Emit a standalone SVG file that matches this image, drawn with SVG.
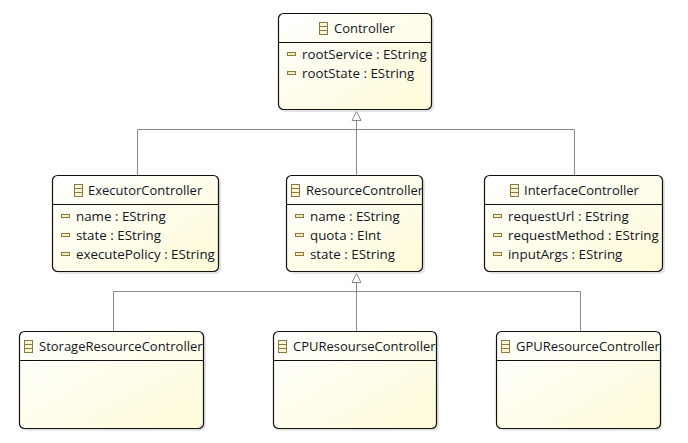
<svg xmlns="http://www.w3.org/2000/svg" width="688" height="443" viewBox="0 0 688 443">
<style>
text{font-family:"Open Sans","Noto Sans","Liberation Sans",sans-serif;font-size:13px;fill:#10161e}
text.a{font-size:13.35px}
.box{fill:url(#g);stroke:#111;stroke-width:1.2}
.sep{stroke:#111;stroke-width:1}
.shadow{fill:#bbb;opacity:.4}
.conn{fill:none;stroke:#8a8a8a;stroke-width:1}
.head{fill:#fff;stroke:#8a8a8a;stroke-width:1}
.ci{fill:#faf5d8;stroke:#8a7a3c;stroke-width:1}
.at{fill:#f5edc0;stroke:#8a7a3c;stroke-width:1}
</style>
<defs>
<linearGradient id="g" x1="0" y1="0" x2="1" y2="1"><stop offset="0" stop-color="#ffffff"/><stop offset="1" stop-color="#fffbd8"/></linearGradient>
<g id="ci"><rect class="ci" x="0.5" y="0.500" width="8" height="12"/><path class="ci" d="M0.5 4.500H8.500M0.5 8.500H8.500"/></g>
<rect id="at" class="at" x="0.5" y="0.5" width="8" height="3"/>
</defs>
<rect width="688" height="443" fill="#fff"/>
<g id="connectors">
<path class="conn" d="M137.500 176V129.500H574.500V176M356.500 176V120"/>
<path class="head" d="M356.500 111.500L352 120.500H361Z"/>
<path class="conn" d="M113.500 332V291.500H580.500V332M356.500 332V282"/>
<path class="head" d="M356.500 273.500L352 282.500H361Z"/>
</g>
<g id="Controller">
<rect class="shadow" x="280" y="16" width="154" height="96" rx="5"/>
<rect class="box" x="278.500" y="13.500" width="153" height="96" rx="5"/>
<path class="sep" d="M278.500 42.500H431.500"/>
<use href="#ci" x="319" y="22"/>
<text x="334" y="33">Controller</text>
<use href="#at" x="287" y="52"/><text class="a" x="302" y="59">rootService : EString</text>
<use href="#at" x="287" y="71"/><text class="a" x="302" y="78">rootState : EString</text>
</g>
<g id="ExecutorController">
<rect class="shadow" x="55" y="178" width="166" height="96" rx="5"/>
<rect class="box" x="52.500" y="175.500" width="166" height="96" rx="5"/>
<path class="sep" d="M52.500 204.500H218.500"/>
<use href="#ci" x="74" y="184"/>
<text x="88" y="195">ExecutorController</text>
<use href="#at" x="61" y="214"/><text class="a" x="76" y="221">name : EString</text>
<use href="#at" x="61" y="233"/><text class="a" x="76" y="240">state : EString</text>
<use href="#at" x="61" y="252"/><text class="a" x="76" y="259">executePolicy : EString</text>
</g>
<g id="ResourceController">
<rect class="shadow" x="289" y="178" width="136" height="96" rx="5"/>
<rect class="box" x="286.500" y="175.500" width="136" height="96" rx="5"/>
<path class="sep" d="M286.500 204.500H422.500"/>
<use href="#ci" x="291" y="184"/>
<text x="306" y="195">ResourceController</text>
<use href="#at" x="295" y="214"/><text class="a" x="310" y="221">name : EString</text>
<use href="#at" x="295" y="233"/><text class="a" x="310" y="240">quota : EInt</text>
<use href="#at" x="295" y="252"/><text class="a" x="310" y="259">state : EString</text>
</g>
<g id="InterfaceController">
<rect class="shadow" x="487" y="178" width="178" height="96" rx="5"/>
<rect class="box" x="484.500" y="175.500" width="178" height="96" rx="5"/>
<path class="sep" d="M484.500 204.500H662.500"/>
<use href="#ci" x="510" y="184"/>
<text x="524" y="195">InterfaceController</text>
<use href="#at" x="493" y="214"/><text class="a" x="508" y="221">requestUrl : EString</text>
<use href="#at" x="493" y="233"/><text class="a" x="508" y="240">requestMethod : EString</text>
<use href="#at" x="493" y="252"/><text class="a" x="508" y="259">inputArgs : EString</text>
</g>
<g id="StorageResourceController">
<rect class="shadow" x="22" y="334" width="184" height="97" rx="5"/>
<rect class="box" x="19.500" y="331.500" width="184" height="97" rx="5"/>
<path class="sep" d="M19.500 360.500H203.500"/>
<use href="#ci" x="24" y="340"/>
<text x="39" y="351">StorageResourceController</text>
</g>
<g id="CPUResourseController">
<rect class="shadow" x="276" y="334" width="163" height="97" rx="5"/>
<rect class="box" x="273.500" y="331.500" width="163" height="97" rx="5"/>
<path class="sep" d="M273.500 360.500H436.500"/>
<use href="#ci" x="278" y="340"/>
<text x="293" y="351">CPUResourseController</text>
</g>
<g id="GPUResourceController">
<rect class="shadow" x="499" y="334" width="163" height="97" rx="5"/>
<rect class="box" x="496.500" y="331.500" width="164" height="97" rx="5"/>
<path class="sep" d="M496.500 360.500H660.500"/>
<use href="#ci" x="501" y="340"/>
<text x="516" y="351">GPUResourceController</text>
</g>
</svg>
